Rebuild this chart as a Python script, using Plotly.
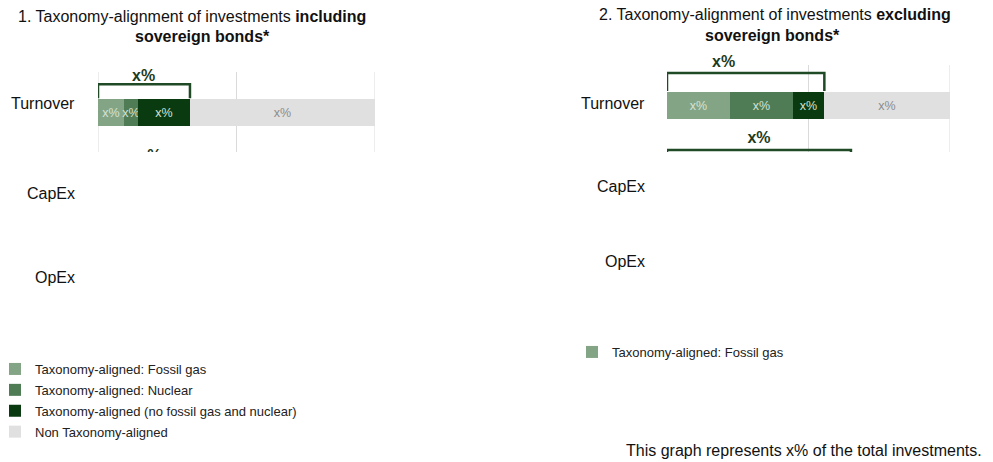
import plotly.graph_objects as go

# ---------------- data ----------------
series_names = [
    "Taxonomy-aligned: Fossil gas",
    "Taxonomy-aligned: Nuclear",
    "Taxonomy-aligned (no fossil gas and nuclear)",
    "Non Taxonomy-aligned",
]
series_colors = ["#84a585", "#4f7b55", "#0a3b10", "#e0e0e0"]
text_colors = ["#d5e2d5", "#d5e2d5", "#d5e2d5", "#8c8c8c"]

# Turnover split (percent of the bar)
incl_turnover = [9.4, 5.0, 18.8, 66.8]
excl_turnover = [22.3, 22.3, 11.0, 44.4]
# aligned totals of the next (CapEx) row, only partly visible
incl_capex_total = [37.5]
excl_capex_total = [65.0]

bar_label = "x%"
categories = ["Turnover", "CapEx", "OpEx"]
title1_lines = ["1. Taxonomy-alignment of investments <b>including</b>", "<b>sovereign bonds*</b>"]
title2_lines = ["2. Taxonomy-alignment of investments <b>excluding</b>", "<b>sovereign bonds*</b>"]
footnote = "This graph represents x% of the total investments."

W, H = 993, 462
FONT = "Liberation Sans, Arial, sans-serif"
BRACKET = "#1f4a25"
LABEL_DARK = "#1d3b21"
GRID = "#dadada"


def px(x):
    return x / W


def py(y):
    return 1 - y / H


fig = go.Figure()

panels = [
    dict(vals=incl_turnover, capex=incl_capex_total, xa="x", ya="y", legend="legend",
         full_legend=True, label_frac=0.5, label_y=76, yb=0.33, yt=0.64, edges=[0, 100]),
    dict(vals=excl_turnover, capex=excl_capex_total, xa="x2", ya="y2", legend="legend2",
         full_legend=False, label_frac=0.36, label_y=61, yb=0.31, yt=0.71, edges=[100]),
]

for p in panels:
    for e in p["edges"]:
        fig.add_shape(type="line", xref=p["xa"], yref=f"{p['ya']} domain",
                      x0=e, x1=e, y0=0, y1=1, layer="below",
                      line=dict(color=GRID, width=1))
    for i, name in enumerate(series_names):
        show = p["full_legend"] or i == 0
        fig.add_trace(go.Bar(
            x=[p["vals"][i]], y=[0], orientation="h", width=0.6,
            name=name, marker=dict(color=series_colors[i], line=dict(width=0)),
            text=[bar_label], textposition="inside", insidetextanchor="middle",
            textangle=0,
            textfont=dict(color=text_colors[i], size=12.5, family=FONT),
            xaxis=p["xa"], yaxis=p["ya"], legend=p["legend"], showlegend=show,
            legendgroup=f"{p['legend']}_{i}",
            hoverinfo="skip",
        ))
    total = sum(p["vals"][:3])
    first = p["xa"] == "x"
    # bracket above the turnover bar
    fig.add_trace(go.Scatter(
        x=[0, 0, total, total], y=[p["yb"], p["yt"], p["yt"], p["yb"]], mode="lines",
        line=dict(color=BRACKET, width=2.5), showlegend=False, hoverinfo="skip",
        xaxis=p["xa"], yaxis=p["ya"],
    ))
    fig.add_annotation(
        x=total * p["label_frac"], y=py(p["label_y"]),
        xref=p["xa"], yref="paper", text="<b>x%</b>", showarrow=False,
        xanchor="center", yanchor="middle",
        font=dict(size=16, color=LABEL_DARK, family=FONT),
    )
    # CapEx bracket label / bracket top, clipped by the plot area
    ctot = p["capex"][0]
    fig.add_trace(go.Scatter(
        x=[ctot / 2], y=[-0.98 if first else -0.76], mode="text", text=["<b>x%</b>"],
        textfont=dict(size=16, color=LABEL_DARK, family=FONT), cliponaxis=True,
        showlegend=False, hoverinfo="skip", xaxis=p["xa"], yaxis=p["ya"],
    ))
    if not first:
        fig.add_trace(go.Scatter(
            x=[0, 0, ctot, ctot], y=[-1.4, -1.0, -1.0, -1.4], mode="lines",
            line=dict(color=BRACKET, width=2.5), showlegend=False, hoverinfo="skip",
            xaxis=p["xa"], yaxis=p["ya"],
        ))

xcommon = dict(range=[0, 100], tickvals=[50], showticklabels=False,
               showgrid=True, gridcolor=GRID, gridwidth=1, zeroline=False,
               showline=False, ticks="", fixedrange=True)
ycommon = dict(showticklabels=False, showgrid=False, zeroline=False, showline=False,
               ticks="", fixedrange=True)

legend_font = dict(size=13, family=FONT, color="#222222")
fig.update_layout(
    width=W, height=H, margin=dict(l=0, r=0, t=0, b=0, autoexpand=False),
    paper_bgcolor="white", plot_bgcolor="white",
    barmode="stack", bargap=0,
    font=dict(family=FONT, size=16, color="#111111"),
    uniformtext=dict(minsize=12.5, mode="show"),
    xaxis=dict(domain=[px(98), px(375)], anchor="y", **xcommon),
    yaxis=dict(domain=[py(152), py(72)], range=[-0.867, 0.911], anchor="x", **ycommon),
    xaxis2=dict(domain=[px(667), px(950)], anchor="y2", **xcommon),
    yaxis2=dict(domain=[py(152), py(65)], range=[-1.044, 0.889], anchor="x2", **ycommon),
    legend=dict(x=px(-5), y=py(354), xanchor="left", yanchor="top",
                font=legend_font, bgcolor="rgba(0,0,0,0)",
                itemclick=False, itemdoubleclick=False,
                tracegroupgap=1, traceorder="grouped"),
    legend2=dict(x=px(572), y=py(337), xanchor="left", yanchor="top",
                 font=legend_font, bgcolor="rgba(0,0,0,0)",
                 itemclick=False, itemdoubleclick=False),
    showlegend=True,
)

# titles (two lines each)
for lines, centers in ((title1_lines, [(192, 16), (202, 36)]),
                       (title2_lines, [(775, 15), (772, 35)])):
    for txt, (cx, cy) in zip(lines, centers):
        fig.add_annotation(x=px(cx), y=py(cy), xref="paper", yref="paper", text=txt,
                           showarrow=False, xanchor="center", yanchor="middle",
                           font=dict(size=16, family=FONT, color="#111111"))

# category labels
cat_pos_1 = [(77, 103), (77, 193), (77, 277)]
cat_pos_2 = [(647, 103), (647, 186), (647, 261)]
for cat, (x1, y1), (x2, y2) in zip(categories, cat_pos_1, cat_pos_2):
    for xx, yy in ((x1, y1), (x2, y2)):
        fig.add_annotation(x=px(xx), y=py(yy), xref="paper", yref="paper", text=cat,
                           showarrow=False, xanchor="right", yanchor="middle",
                           font=dict(size=16, family=FONT, color="#111111"))

fig.add_annotation(x=px(984), y=py(450), xref="paper", yref="paper", text=footnote,
                   showarrow=False, xanchor="right", yanchor="middle",
                   font=dict(size=16, family=FONT, color="#111111"))

fig.write_html("out.html", config={"displayModeBar": False},
               post_script="document.body.style.margin='0';")
